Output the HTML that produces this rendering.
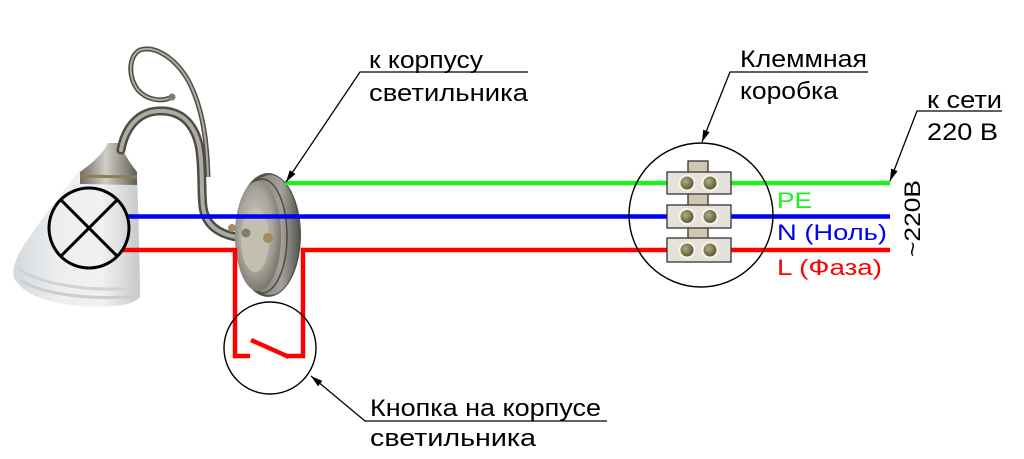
<!DOCTYPE html>
<html><head><meta charset="utf-8">
<style>
html,body{margin:0;padding:0;background:#fff;}
svg{display:block;}
text{font-family:"Liberation Sans","DejaVu Sans",sans-serif;}
</style></head>
<body>
<svg width="1024" height="459" viewBox="0 0 1024 459" xmlns="http://www.w3.org/2000/svg">
<defs>
<marker id="ah" markerUnits="userSpaceOnUse" markerWidth="12" markerHeight="8" refX="12" refY="4" orient="auto">
<path d="M0,0.5 L12,4 L0,7.5 z" fill="#000"/>
</marker>
<linearGradient id="glass" x1="0" y1="0" x2="1" y2="0">
<stop offset="0" stop-color="#d6d9dc"/>
<stop offset="0.35" stop-color="#eceef0"/>
<stop offset="0.7" stop-color="#f0f1f2"/>
<stop offset="1" stop-color="#c6c9cb"/>
</linearGradient>
<linearGradient id="metal" x1="0" y1="0" x2="1" y2="0">
<stop offset="0" stop-color="#6f6d66"/>
<stop offset="0.45" stop-color="#cfcec4"/>
<stop offset="1" stop-color="#625f58"/>
</linearGradient>
<linearGradient id="rim" x1="0" y1="0" x2="1" y2="0">
<stop offset="0" stop-color="#6c6a64"/>
<stop offset="0.7" stop-color="#a3a199"/>
<stop offset="1" stop-color="#5a5853"/>
</linearGradient>
<radialGradient id="plateFace" cx="0.45" cy="0.45" r="0.6">
<stop offset="0" stop-color="#cfcbbd"/>
<stop offset="0.6" stop-color="#a9a69c"/>
<stop offset="1" stop-color="#6f6d66"/>
</radialGradient>
<radialGradient id="screw" cx="0.4" cy="0.4" r="0.6">
<stop offset="0" stop-color="#b3ad85"/>
<stop offset="1" stop-color="#55512f"/>
</radialGradient>
</defs>
<rect width="1024" height="459" fill="#fff"/>

<!-- lamp shade -->
<path d="M80,170 L137,172 C138,210 140,260 140,297 C132,306 110,308 78,306 C45,302 22,294 14,278 C12,268 16,258 22,248 C42,218 62,192 80,170 z" fill="url(#glass)"/>
<path d="M18,268 C40,285 90,292 138,288" stroke="#d0d2d4" stroke-width="3" fill="none"/>
<path d="M20,280 C45,296 95,300 139,296" stroke="#cbcdcf" stroke-width="3" fill="none"/>
<!-- collar -->
<path d="M108,143 L120,143 C124,155 132,165 137,172 L137,185 L80,184 L80,172 C92,163 102,155 108,143 z" fill="url(#metal)"/>
<path d="M80,176 L137,177" stroke="#8c7f55" stroke-width="3"/>
<!-- arm -->
<path d="M121,150 C125,128 138,112 158,111 C178,110 193,120 199,145 C203,165 201,190 203,207 C205,222 215,233 236,237" stroke="#4f4d46" stroke-width="9" fill="none" stroke-linecap="round"/>
<path d="M121,150 C125,128 138,112 158,111 C178,110 193,120 199,145 C203,165 201,190 203,207 C205,222 215,233 236,237" stroke="#aeaca2" stroke-width="4" fill="none" stroke-linecap="round"/>
<!-- scroll -->
<path d="M208,177 C207,145 204,110 188,80 C175,58 155,45 140,50 C128,56 128,78 138,90 C146,99 160,103 172,97" stroke="#4f4d46" stroke-width="5" fill="none"/>
<path d="M208,177 C207,145 204,110 188,80 C175,58 155,45 140,50 C128,56 128,78 138,90 C146,99 160,103 172,97" stroke="#aeaca2" stroke-width="2" fill="none"/>
<circle cx="172" cy="97" r="3.5" fill="#7e7c74"/>

<!-- wall plate -->
<ellipse cx="268" cy="235" rx="33" ry="62" fill="#55534e"/>
<ellipse cx="270" cy="235" rx="29" ry="60" fill="url(#rim)"/>
<ellipse cx="262" cy="236" rx="25" ry="57" fill="none" stroke="#4e4c47" stroke-width="1.5"/>
<ellipse cx="258" cy="236" rx="23" ry="55" fill="url(#plateFace)"/>
<ellipse cx="255" cy="240" rx="14" ry="32" fill="#c2beb0"/>
<circle cx="232" cy="228" r="4" fill="#a08f5c"/>
<circle cx="268" cy="238" r="5" fill="#a08f5c"/>
<circle cx="246" cy="233" r="4.5" fill="#7e7c74"/>

<!-- wires -->
<line x1="285" y1="183" x2="890" y2="183" stroke="#1fee1f" stroke-width="4.5"/>
<line x1="128" y1="216.5" x2="890" y2="216.5" stroke="#0000f0" stroke-width="4.5"/>
<polyline points="123,250 235,250 235,356 250,356" stroke="#f00" stroke-width="4.5" fill="none"/>
<line x1="251" y1="340" x2="289" y2="357" stroke="#f00" stroke-width="4.5"/>
<polyline points="286,356 303,356 303,250 890,250" stroke="#f00" stroke-width="4.5" fill="none"/>

<!-- lamp symbol -->
<circle cx="89" cy="228" r="40" fill="none" stroke="#000" stroke-width="3"/>
<line x1="60.7" y1="199.7" x2="117.3" y2="256.3" stroke="#000" stroke-width="3"/>
<line x1="117.3" y1="199.7" x2="60.7" y2="256.3" stroke="#000" stroke-width="3"/>

<!-- switch circle -->
<circle cx="270" cy="348" r="46" fill="none" stroke="#000" stroke-width="1.4"/>

<!-- terminal box circle -->
<circle cx="701" cy="215" r="72" fill="none" stroke="#000" stroke-width="1.4"/>

<!-- terminal blocks -->
<g stroke="#333" stroke-width="1.3">
<rect x="688" y="161" width="20" height="100" fill="#cfc6b5"/>
<rect x="667" y="172" width="64" height="22" fill="#e6e2d9"/>
<rect x="667" y="205" width="64" height="23" fill="#e6e2d9"/>
<rect x="667" y="238" width="64" height="24" fill="#e6e2d9"/>
</g>
<g stroke="#f6f4ee" stroke-width="2">
<circle cx="687" cy="183" r="7.5" fill="url(#screw)"/>
<circle cx="710" cy="183" r="7.5" fill="url(#screw)"/>
<circle cx="687" cy="216.5" r="7.5" fill="url(#screw)"/>
<circle cx="710" cy="216.5" r="7.5" fill="url(#screw)"/>
<circle cx="687" cy="250" r="7.5" fill="url(#screw)"/>
<circle cx="710" cy="250" r="7.5" fill="url(#screw)"/>
</g>

<!-- leader lines -->
<g stroke="#000" stroke-width="1.3" fill="none">
<polyline points="528,72 360,72 286,182" marker-end="url(#ah)"/>
<polyline points="868,72 730,72 702,142" marker-end="url(#ah)"/>
<polyline points="1002,111 917,111 890,181" marker-end="url(#ah)"/>
<polyline points="607,421 365,421 311,376" marker-end="url(#ah)"/>
</g>

<!-- labels -->
<g fill="#000" font-size="24">
<text x="369" y="68" textLength="114" lengthAdjust="spacingAndGlyphs">к корпусу</text>
<text x="369" y="101" textLength="159" lengthAdjust="spacingAndGlyphs">светильника</text>
<text x="740" y="67" textLength="127" lengthAdjust="spacingAndGlyphs">Клеммная</text>
<text x="740" y="99" textLength="98" lengthAdjust="spacingAndGlyphs">коробка</text>
<text x="927" y="108" textLength="75" lengthAdjust="spacingAndGlyphs">к сети</text>
<text x="927" y="140" textLength="71" lengthAdjust="spacingAndGlyphs">220 В</text>
<text x="370" y="416" textLength="231" lengthAdjust="spacingAndGlyphs">Кнопка на корпусе</text>
<text x="370" y="446" textLength="166" lengthAdjust="spacingAndGlyphs">светильника</text>
</g>
<g font-size="22">
<text x="777" y="208" fill="#1fee1f" textLength="35" lengthAdjust="spacingAndGlyphs">PE</text>
<text x="777" y="240" fill="#0000f0" textLength="110" lengthAdjust="spacingAndGlyphs">N (Ноль)</text>
<text x="777" y="275" fill="#f00" textLength="105" lengthAdjust="spacingAndGlyphs">L (Фаза)</text>
<text transform="translate(920,257) rotate(-90)" fill="#000" textLength="77" lengthAdjust="spacingAndGlyphs">~220В</text>
</g>
</svg>
</body></html>
